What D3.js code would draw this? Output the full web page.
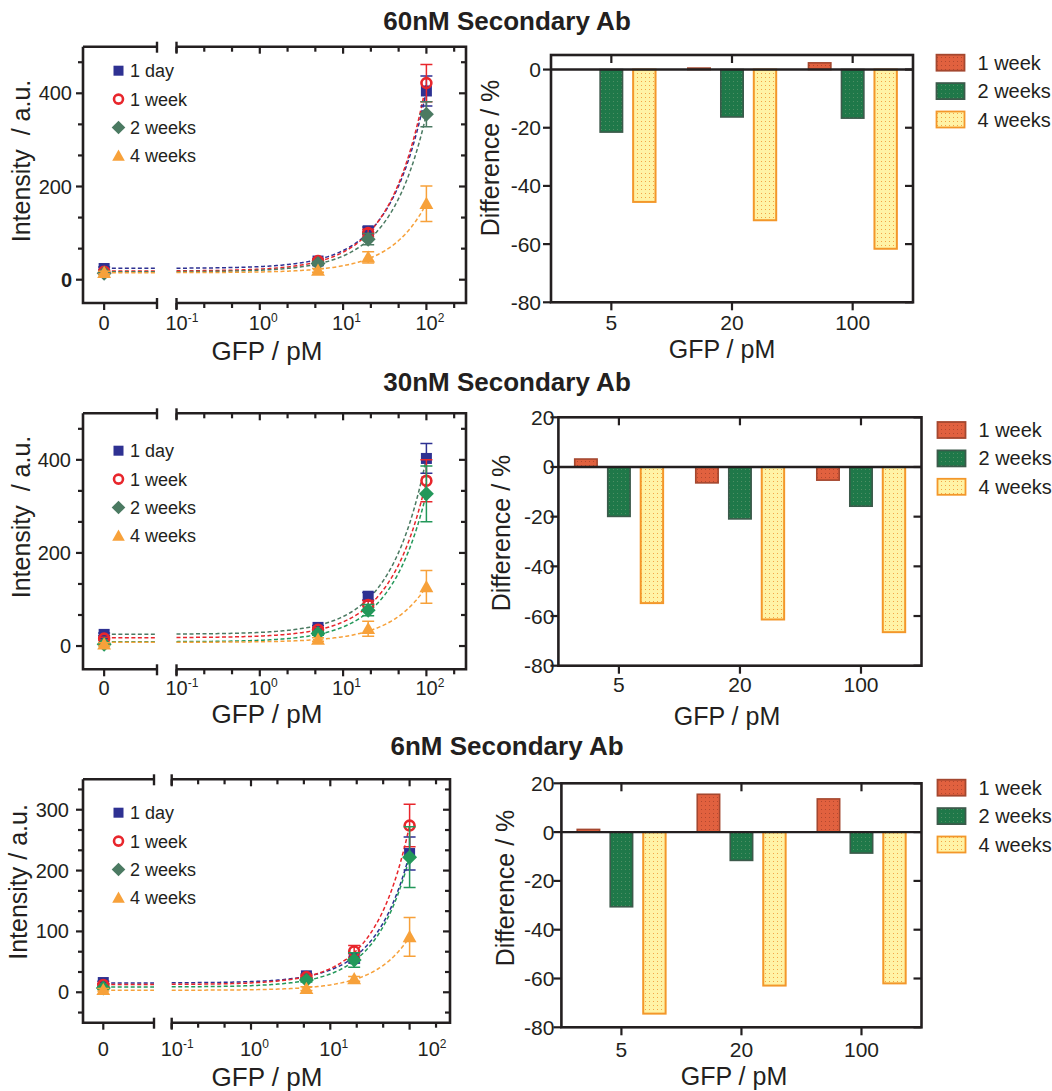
<!DOCTYPE html>
<html>
<head>
<meta charset="utf-8">
<script src="https://cdn.jsdelivr.net/npm/d3@7"></script>
<style>
  body { margin: 0; background: #fff; }
  svg { font-family: 'Liberation Sans', Arial, sans-serif; }
</style>
</head>
<body>
<div class="canvas"></div>
<script>
// ---- data ----
const gfp = [0, 5, 20, 100];                 // pM
const seriesNames = ['1 day', '1 week', '2 weeks', '4 weeks'];
const barNames = ['1 week', '2 weeks', '4 weeks'];
const barCats = ['5', '20', '100'];
const titles = ['60nM Secondary Ab', '30nM Secondary Ab', '6nM Secondary Ab'];

// intensity (a.u.), one row per series
const int60 = [[24, 40, 105, 405], [17, 40, 100, 422], [14, 35, 87, 355], [15, 20, 48, 163]];
const err60 = [[3, 4, 8, 32], [3, 4, 8, 40], [3, 4, 12, 27], [3, 4, 12, 38]];
const int30 = [[25, 40, 107, 403], [16, 35, 88, 355], [4, 27, 77, 327], [4, 14, 37, 127]];
const err30 = [[3, 4, 8, 32], [3, 4, 10, 45], [3, 4, 12, 60], [3, 4, 16, 35]];
const int6 = [[16, 27, 56, 228], [12, 25, 67, 274], [7, 20, 53, 222], [4, 6, 22, 91]];
const err6 = [[2, 3, 8, 27], [2, 3, 10, 35], [2, 3, 12, 50], [2, 3, 4, 32]];

// difference (%), one row per series (1 week, 2 weeks, 4 weeks)
const diff60 = [[0, 0.5, 2.3], [-21.5, -16.3, -16.7], [-45.5, -51.8, -61.6]];
const diff30 = [[3.2, -6.4, -5.3], [-19.9, -20.9, -15.8], [-54.8, -61.4, -66.5]];
const diff6 = [[1.1, 15.5, 13.6], [-30.6, -11.6, -8.6], [-74.4, -62.9, -62.0]];

// ---- styles ----
const ink = '#231f20';
const markColors = [
  ['#2e3192', '#e8262c', '#4b7a62', '#f7a13a'],
  ['#2e3192', '#e8262c', '#23985a', '#f7a13a'],
  ['#2e3192', '#e8262c', '#23985a', '#f7a13a']
];
const fitColors = [
  ['#2e3192', '#e8262c', '#4b7a62', '#f7a13a'],
  ['#4b7a62', '#e8262c', '#23985a', '#f7a13a'],
  ['#2e3192', '#e8262c', '#23985a', '#f7a13a']
];
const legendColors = ['#2e3192', '#e8262c', '#4b7a62', '#f7a13a'];

const svg = d3.select('.canvas')
  .append('svg')
    .attr('width', 1052)
    .attr('height', 1091);

// dotted fills for the bars
const defs = svg.append('defs');
const pats = [
  {id: 'pRed', bg: '#e1613f', dot: '#b3482f', stroke: '#a4472f'},
  {id: 'pGreen', bg: '#1f7849', dot: '#4f8f64', stroke: '#3c5a4b'},
  {id: 'pYellow', bg: '#fff3a6', dot: '#f2a446', stroke: '#f3972a'}
];
pats.forEach(p => {
  const pat = defs.append('pattern')
    .attr('id', p.id)
    .attr('width', 4).attr('height', 4)
    .attr('patternUnits', 'userSpaceOnUse');
  pat.append('rect').attr('width', 4).attr('height', 4).attr('fill', p.bg);
  pat.append('rect').attr('x', 1).attr('y', 1).attr('width', 1).attr('height', 1).attr('fill', p.dot);
});

// titles
const titleY = [30, 391, 755];
titles.forEach((t, i) => {
  svg.append('text')
    .attr('x', 507).attr('y', titleY[i])
    .attr('text-anchor', 'middle')
    .attr('font-size', 26).attr('font-weight', 'bold')
    .attr('fill', ink)
    .text(t);
});

// ---- line panels (left) ----
const linePanels = [
  {ints: int60, errs: err60, x0: 83, x1: 157, x2: 176.5, dec: 83.3, x3: 466, top: 46.7, bot: 303,
   ymax: 500, major: 200, ylabGap: 11, boldZero: true, tickBase: 330, titleBase: 360,
   yTitle: 'Intensity  / a.u.', yTitleX: 30, yTitleY: 161, legY: 70.7, lastDx: 0},
  {ints: int30, errs: err30, x0: 83, x1: 157, x2: 176.5, dec: 83.3, x3: 466, top: 413.3, bot: 669.3,
   ymax: 500, major: 200, ylabGap: 12, boldZero: false, tickBase: 695, titleBase: 723,
   yTitle: 'Intensity  / a.u.', yTitleX: 30, yTitleY: 517, legY: 450.7, lastDx: 0},
  {ints: int6, errs: err6, x0: 83, x1: 154, x2: 171.7, dec: 79.3, x3: 450, top: 779.3, bot: 1022.7,
   ymax: 350, major: 100, ylabGap: 14, boldZero: false, tickBase: 1056, titleBase: 1086,
   yTitle: 'Intensity / a.u.', yTitleX: 27, yTitleY: 882, legY: 812.7, lastDx: 19}
];

function linFit(xs, ys) {
  const mx = d3.mean(xs), my = d3.mean(ys);
  const b = d3.sum(xs, (x, i) => (x - mx) * (ys[i] - my)) / d3.sum(xs, x => (x - mx) * (x - mx));
  return {a: my - b * mx, b: b};
}

function marker(g, type, x, y, color, s) {
  if (type === 0) {
    g.append('rect').attr('x', x - s / 2).attr('y', y - s / 2).attr('width', s).attr('height', s).attr('fill', color);
  } else if (type === 1) {
    g.append('circle').attr('cx', x).attr('cy', y).attr('r', s * 0.45)
      .attr('fill', 'none').attr('stroke', color).attr('stroke-width', 2.6);
  } else if (type === 2) {
    const h = s * 0.68;
    g.append('path').attr('d', `M${x},${y - h}L${x + h},${y}L${x},${y + h}L${x - h},${y}Z`).attr('fill', color);
  } else {
    const h = s * 0.6;
    g.append('path').attr('d', `M${x},${y - h * 1.05}L${x + h * 1.05},${y + h * 0.8}L${x - h * 1.05},${y + h * 0.8}Z`).attr('fill', color);
  }
}

linePanels.forEach((p, pi) => {
  const g = svg.append('g');
  const y = d3.scaleLinear().domain([-50, p.ymax]).range([p.bot, p.top]);
  const xl = d3.scaleLinear().domain([-1, 2.5]).range([p.x0, p.x1]);
  const xr = d3.scaleLog().domain([0.1, 100]).range([p.x2, p.x2 + 3 * p.dec]);
  const xPos = v => v === 0 ? xl(0) : xr(v);

  // frame
  const frame = `M${p.x0},${p.top}V${p.bot}H${p.x1}M${p.x2},${p.bot}H${p.x3}V${p.top}H${p.x2}M${p.x1},${p.top}H${p.x0}`;
  g.append('path').attr('d', frame).attr('fill', 'none').attr('stroke', ink).attr('stroke-width', 2.6);
  // break marks
  [p.x1, p.x2].forEach(bx => {
    [p.top, p.bot].forEach(by => {
      g.append('line').attr('x1', bx).attr('x2', bx).attr('y1', by - 5).attr('y2', by + 6)
        .attr('stroke', ink).attr('stroke-width', 2.4);
    });
  });

  // y ticks
  const minorStep = p.major / 3;
  const yTicks = d3.range(-minorStep, p.ymax + 1, minorStep).filter(v => y(v) <= p.bot && y(v) >= p.top);
  yTicks.forEach(v => {
    const isMajor = Math.abs(v / p.major - Math.round(v / p.major)) < 1e-6;
    const len = isMajor ? 7 : 5;
    g.append('line').attr('x1', p.x0 - len).attr('x2', p.x0).attr('y1', y(v)).attr('y2', y(v))
      .attr('stroke', ink).attr('stroke-width', 2.2);
    g.append('line').attr('x1', p.x3 - len).attr('x2', p.x3).attr('y1', y(v)).attr('y2', y(v))
      .attr('stroke', ink).attr('stroke-width', 2.2);
    if (isMajor) {
      g.append('text').attr('x', p.x0 - p.ylabGap).attr('y', y(Math.round(v)) + 7)
        .attr('text-anchor', 'end').attr('font-size', 20).attr('fill', ink)
        .attr('font-weight', (p.boldZero && Math.round(v) === 0) ? 'bold' : 'normal')
        .text(Math.round(v));
    }
  });

  // x ticks: "0" on the left segment
  g.append('line').attr('x1', xl(0)).attr('x2', xl(0)).attr('y1', p.bot).attr('y2', p.bot + 7)
    .attr('stroke', ink).attr('stroke-width', 2.2);
  g.append('text').attr('x', xl(0)).attr('y', p.tickBase).attr('text-anchor', 'middle')
    .attr('font-size', 20).attr('fill', ink).text('0');
  // log ticks, three per decade
  const logMax = Math.log10(xr.invert(p.x3));
  d3.range(-3, 3 * (logMax + 0.01) + 1).forEach(k => {
    const e = k / 3;
    if (e < -1 || e > logMax) return;
    const xv = xr(Math.pow(10, e));
    const isMajor = k % 3 === 0;
    const len = isMajor ? 7 : 5;
    g.append('line').attr('x1', xv).attr('x2', xv).attr('y1', p.bot).attr('y2', p.bot + len)
      .attr('stroke', ink).attr('stroke-width', 2.2);
    g.append('line').attr('x1', xv).attr('x2', xv).attr('y1', p.top).attr('y2', p.top + len)
      .attr('stroke', ink).attr('stroke-width', 2.2);
    if (isMajor) {
      const dx = (e === 2) ? p.lastDx : 0;
      const t = g.append('text').attr('x', xv + dx - 11).attr('y', p.tickBase)
        .attr('font-size', 20).attr('fill', ink);
      t.append('tspan').text('10');
      t.append('tspan').attr('dy', -8).attr('font-size', 12).text(e === 0 ? '0' : (e < 0 ? '-' + Math.abs(e) : e));
    }
  });

  // axis titles
  g.append('text').attr('x', 267).attr('y', p.titleBase).attr('text-anchor', 'middle')
    .attr('font-size', 26).attr('fill', ink).text('GFP / pM');
  g.append('text')
    .attr('transform', `translate(${p.yTitleX},${p.yTitleY}) rotate(-90)`)
    .attr('text-anchor', 'middle').attr('font-size', 25).attr('fill', ink)
    .style('white-space', 'pre')
    .text(p.yTitle);

  // fitted straight lines (linear in pM), drawn on the broken log axis
  const fits = p.ints.map(vals => linFit(gfp, vals));
  const xsCurve = d3.range(-1, 2.0001, 0.02).map(e => Math.pow(10, e));
  fits.forEach((f, si) => {
    const col = fitColors[pi][si];
    g.append('line').attr('x1', xl(-0.25)).attr('x2', p.x1).attr('y1', y(f.a)).attr('y2', y(f.a))
      .attr('stroke', col).attr('stroke-width', 1.5).attr('stroke-dasharray', '4,2.5');
    g.append('path')
      .datum(xsCurve)
      .attr('d', d3.line().x(d => xr(d)).y(d => y(f.a + f.b * d)))
      .attr('fill', 'none').attr('stroke', col).attr('stroke-width', 1.5)
      .attr('stroke-dasharray', '4,2.5');
  });

  // error bars and markers
  p.ints.forEach((vals, si) => {
    const col = markColors[pi][si];
    vals.forEach((v, j) => {
      const xv = xPos(gfp[j]);
      const e = p.errs[si][j];
      g.append('path')
        .attr('d', `M${xv},${y(v - e)}V${y(v + e)}M${xv - 6},${y(v - e)}H${xv + 6}M${xv - 6},${y(v + e)}H${xv + 6}`)
        .attr('fill', 'none').attr('stroke', col).attr('stroke-width', 1.5);
    });
    vals.forEach((v, j) => marker(g, si, xPos(gfp[j]), y(v), col, 11));
  });

  // legend
  seriesNames.forEach((name, si) => {
    const ly = p.legY + si * 28.4;
    marker(g, si, 118.5, ly, legendColors[si], 10);
    g.append('text').attr('x', 130).attr('y', ly + 6.5).attr('font-size', 18).attr('fill', ink).text(name);
  });
});

// ---- bar panels (right) ----
const barPanels = [
  {diffs: diff60, x0: 551, x1: 913, top: 55, bot: 302.3, ymax: 5, labGap: 10, tickBase: 330, titleBase: 358,
   titleX: 722, yTitleX: 499, yTitleY: 158, legY: 62.7, legX: 936.5},
  {diffs: diff30, x0: 558.4, x1: 921.5, top: 417.3, bot: 665.7, ymax: 20, labGap: 4, tickBase: 691.5, titleBase: 725,
   titleX: 727, yTitleX: 510, yTitleY: 533, legY: 430, legX: 937.5},
  {diffs: diff6, x0: 561.4, x1: 921.5, top: 783.3, bot: 1027.3, ymax: 20, labGap: 7, tickBase: 1056.5, titleBase: 1085,
   titleX: 734, yTitleX: 514, yTitleY: 888, legY: 787.7, legX: 937.5}
];
const barOffsets = [-33, 0, 33];
const barW = 22.4;

barPanels.forEach(p => {
  const g = svg.append('g');
  const y = d3.scaleLinear().domain([-80, p.ymax]).range([p.bot, p.top]);
  const x = d3.scalePoint().domain(barCats).range([p.x0, p.x1]).padding(0.5);

  // bars
  p.diffs.forEach((vals, si) => {
    g.selectAll(null)
      .data(vals)
      .enter()
      .append('rect')
        .attr('x', (d, j) => x(barCats[j]) + barOffsets[si] - barW / 2)
        .attr('y', d => y(Math.max(0, d)))
        .attr('width', barW)
        .attr('height', d => Math.abs(y(d) - y(0)))
        .attr('fill', `url(#${pats[si].id})`)
        .attr('stroke', pats[si].stroke)
        .attr('stroke-width', si === 2 ? 2 : 1.6);
  });

  // frame & zero line
  g.append('rect').attr('x', p.x0).attr('y', p.top).attr('width', p.x1 - p.x0).attr('height', p.bot - p.top)
    .attr('fill', 'none').attr('stroke', ink).attr('stroke-width', 2.6);
  g.append('line').attr('x1', p.x0).attr('x2', p.x1).attr('y1', y(0)).attr('y2', y(0))
    .attr('stroke', ink).attr('stroke-width', 2.4);

  // y ticks
  d3.range(-80, p.ymax + 1, 20).forEach(v => {
    g.append('line').attr('x1', p.x0 - 8).attr('x2', p.x0).attr('y1', y(v)).attr('y2', y(v))
      .attr('stroke', ink).attr('stroke-width', 2.2);
    g.append('line').attr('x1', p.x1 - 8).attr('x2', p.x1).attr('y1', y(v)).attr('y2', y(v))
      .attr('stroke', ink).attr('stroke-width', 2.2);
    g.append('text').attr('x', p.x0 - p.labGap).attr('y', y(v) + 7.5).attr('text-anchor', 'end')
      .attr('font-size', 21).attr('fill', ink).text(v);
  });
  // x ticks
  barCats.forEach(c => {
    g.append('line').attr('x1', x(c)).attr('x2', x(c)).attr('y1', p.bot).attr('y2', p.bot + 8)
      .attr('stroke', ink).attr('stroke-width', 2.2);
    g.append('line').attr('x1', x(c)).attr('x2', x(c)).attr('y1', p.top).attr('y2', p.top + 8)
      .attr('stroke', ink).attr('stroke-width', 2.2);
    g.append('text').attr('x', x(c)).attr('y', p.tickBase).attr('text-anchor', 'middle')
      .attr('font-size', 21).attr('fill', ink).text(c);
  });

  // titles
  g.append('text').attr('x', p.titleX).attr('y', p.titleBase).attr('text-anchor', 'middle')
    .attr('font-size', 25).attr('fill', ink).text('GFP / pM');
  g.append('text')
    .attr('transform', `translate(${p.yTitleX},${p.yTitleY}) rotate(-90)`)
    .attr('text-anchor', 'middle').attr('font-size', 25).attr('fill', ink)
    .text('Difference / %');

  // legend
  barNames.forEach((name, si) => {
    const ly = p.legY + si * 28.4;
    g.append('rect').attr('x', p.legX).attr('y', ly - 8).attr('width', 28).attr('height', 16)
      .attr('fill', `url(#${pats[si].id})`).attr('stroke', pats[si].stroke).attr('stroke-width', 1.8);
    g.append('text').attr('x', p.legX + 41).attr('y', ly + 7).attr('font-size', 20).attr('fill', ink).text(name);
  });
});
</script>
</body>
</html>
